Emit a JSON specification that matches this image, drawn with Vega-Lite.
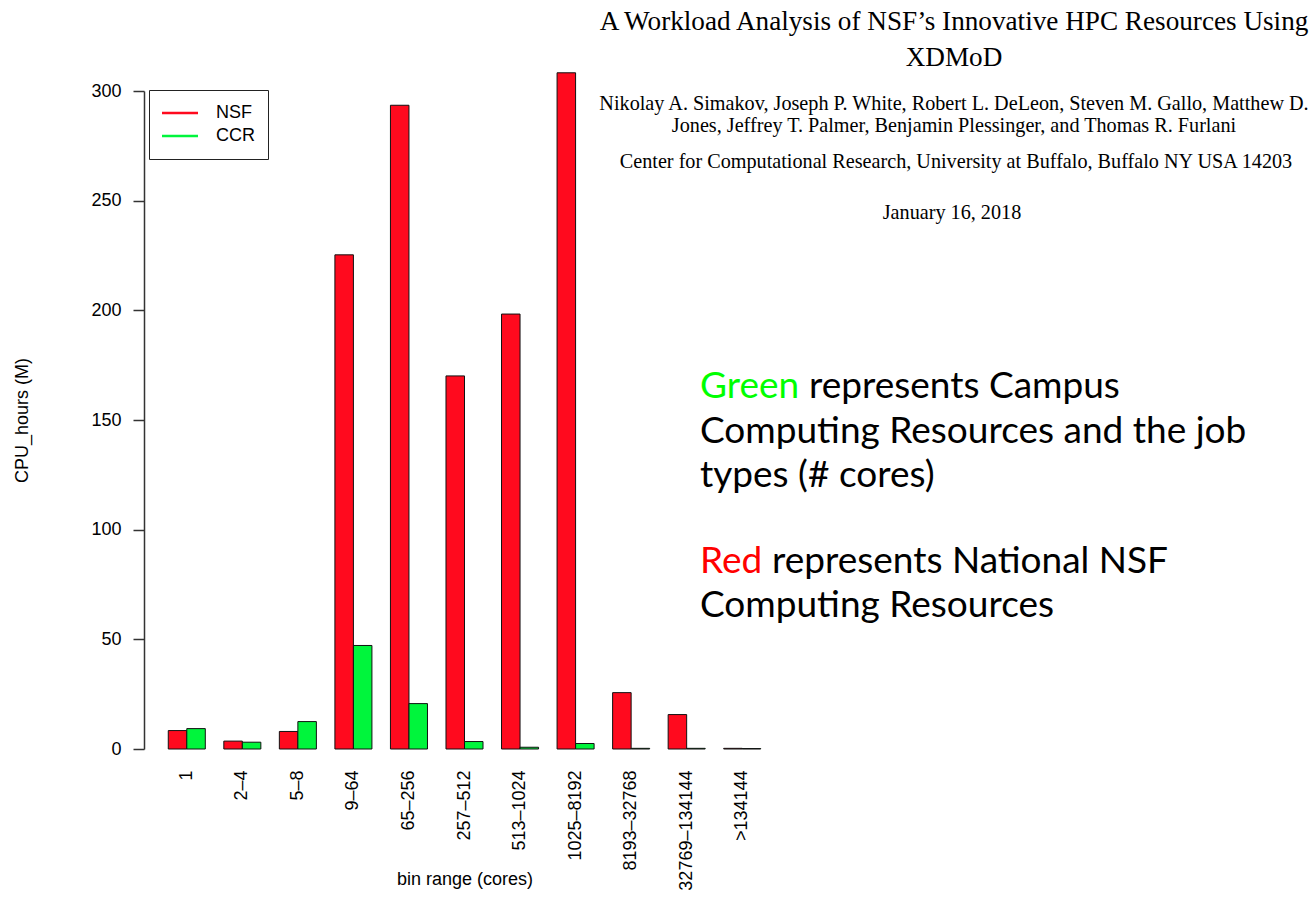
{
  "$schema": "https://vega.github.io/schema/vega-lite/v6.json",
  "width": 641,
  "height": 658,
  "autosize": {"type": "none"},
  "padding": {"left": 144, "top": 91, "right": 529, "bottom": 150},
  "background": "white",
  "config": {"view": {"stroke": null}, "font": "Liberation Sans"},
  "layer": [
    {
      "data": {
        "values": [
          {"bin": "1", "series": "NSF", "value": 8.4},
          {"bin": "1", "series": "CCR", "value": 9.3},
          {"bin": "2–4", "series": "NSF", "value": 3.6},
          {"bin": "2–4", "series": "CCR", "value": 3.1},
          {"bin": "5–8", "series": "NSF", "value": 8.0},
          {"bin": "5–8", "series": "CCR", "value": 12.5},
          {"bin": "9–64", "series": "NSF", "value": 225.3},
          {"bin": "9–64", "series": "CCR", "value": 47.2},
          {"bin": "65–256", "series": "NSF", "value": 293.5},
          {"bin": "65–256", "series": "CCR", "value": 20.7},
          {"bin": "257–512", "series": "NSF", "value": 170.1},
          {"bin": "257–512", "series": "CCR", "value": 3.4},
          {"bin": "513–1024", "series": "NSF", "value": 198.3},
          {"bin": "513–1024", "series": "CCR", "value": 0.8},
          {"bin": "1025–8192", "series": "NSF", "value": 308.3},
          {"bin": "1025–8192", "series": "CCR", "value": 2.5},
          {"bin": "8193–32768", "series": "NSF", "value": 25.7},
          {"bin": "8193–32768", "series": "CCR", "value": 0.3},
          {"bin": "32769–134144", "series": "NSF", "value": 15.7},
          {"bin": "32769–134144", "series": "CCR", "value": 0.3},
          {"bin": ">134144", "series": "NSF", "value": 0.3},
          {"bin": ">134144", "series": "CCR", "value": 0.2}
        ]
      },
      "mark": {"type": "bar", "stroke": "#111111", "strokeWidth": 1},
      "encoding": {
        "x": {
          "field": "bin",
          "type": "nominal",
          "sort": ["1", "2–4", "5–8", "9–64", "65–256", "257–512", "513–1024", "1025–8192", "8193–32768", "32769–134144", ">134144"],
          "scale": {"paddingInner": 0.3333, "paddingOuter": 0.437},
          "title": "bin range (cores)",
          "axis": {
            "domain": false,
            "ticks": false,
            "tickSize": 0,
            "labelAngle": 270,
            "labelAlign": "right",
            "labelBaseline": "middle",
            "labelPadding": 21,
            "labelFontSize": 18,
            "labelColor": "black",
            "labelOverlap": false,
            "labelLimit": 0,
            "titleFontSize": 18,
            "titleFontWeight": "normal",
            "titleColor": "black",
            "titleBaseline": "alphabetic",
            "titleY": 135
          }
        },
        "xOffset": {
          "field": "series",
          "type": "nominal",
          "sort": ["NSF", "CCR"],
          "scale": {"paddingInner": 0, "paddingOuter": 0}
        },
        "y": {
          "field": "value",
          "type": "quantitative",
          "scale": {"domain": [0, 300], "nice": false},
          "title": "CPU_hours (M)",
          "axis": {
            "values": [0, 50, 100, 150, 200, 250, 300],
            "grid": false,
            "domainColor": "#333333",
            "domainWidth": 1.5,
            "tickColor": "#333333",
            "tickWidth": 1.5,
            "tickSize": 11,
            "labelPadding": 12,
            "labelFontSize": 18,
            "labelColor": "black",
            "titleFontSize": 18,
            "titleFontWeight": "normal",
            "titleColor": "black",
            "titleAngle": 270,
            "titleAlign": "center",
            "titleBaseline": "middle",
            "titleX": -122,
            "titleY": 329
          }
        },
        "color": {
          "field": "series",
          "type": "nominal",
          "sort": ["NSF", "CCR"],
          "scale": {"domain": ["NSF", "CCR"], "range": ["#FF0A1E", "#00F53C"]},
          "legend": {
            "title": null,
            "orient": "none",
            "legendX": 5,
            "legendY": -1,
            "symbolType": "M-1,-0.075H1V0.075H-1Z",
            "symbolSize": 1296,
            "symbolStrokeWidth": 0,
            "clipHeight": 20,
            "rowPadding": 3,
            "padding": 13,
            "labelOffset": 18,
            "labelFontSize": 18,
            "labelColor": "black",
            "strokeColor": "#222222",
            "fillColor": "white",
            "encode": {
              "symbols": {
                "update": {
                  "strokeWidth": {"value": 0}
                }
              }
            }
          }
        }
      }
    },
    {
      "data": {"values": [{"t": ["A Workload Analysis of NSF’s Innovative HPC Resources Using", "XDMoD"]}]},
      "mark": {"type": "text", "x": 810, "y": -61, "align": "center", "baseline": "alphabetic", "font": "Liberation Serif", "fontSize": 27.2, "lineHeight": 36, "color": "black"},
      "encoding": {"text": {"field": "t"}}
    },
    {
      "data": {"values": [{"t": ["Nikolay A. Simakov, Joseph P. White, Robert L. DeLeon, Steven M. Gallo, Matthew D.", "Jones, Jeffrey T. Palmer, Benjamin Plessinger, and Thomas R. Furlani"]}]},
      "mark": {"type": "text", "x": 810, "y": 19, "align": "center", "baseline": "alphabetic", "font": "Liberation Serif", "fontSize": 20.2, "lineHeight": 22, "color": "black"},
      "encoding": {"text": {"field": "t"}}
    },
    {
      "data": {"values": [{"t": "Center for Computational Research, University at Buffalo, Buffalo NY USA 14203"}]},
      "mark": {"type": "text", "x": 812, "y": 77, "align": "center", "baseline": "alphabetic", "font": "Liberation Serif", "fontSize": 20.2, "color": "black"},
      "encoding": {"text": {"field": "t"}}
    },
    {
      "data": {"values": [{"t": "January 16, 2018"}]},
      "mark": {"type": "text", "x": 808, "y": 128, "align": "center", "baseline": "alphabetic", "font": "Liberation Serif", "fontSize": 20.2, "color": "black"},
      "encoding": {"text": {"field": "t"}}
    },
    {
      "data": {"values": [{"t": "Green"}]},
      "mark": {"type": "text", "x": 556, "y": 307, "align": "left", "baseline": "alphabetic", "font": "Lato", "fontSize": 37, "color": "#00FF00"},
      "encoding": {"text": {"field": "t"}}
    },
    {
      "data": {"values": [{"t": "represents Campus"}]},
      "mark": {"type": "text", "x": 665, "y": 307, "align": "left", "baseline": "alphabetic", "font": "Lato", "fontSize": 37, "color": "black"},
      "encoding": {"text": {"field": "t"}}
    },
    {
      "data": {"values": [{"t": ["Computing Resources and the job", "types (# cores)"]}]},
      "mark": {"type": "text", "x": 556, "y": 352, "align": "left", "baseline": "alphabetic", "font": "Lato", "fontSize": 37, "lineHeight": 43.5, "color": "black"},
      "encoding": {"text": {"field": "t"}}
    },
    {
      "data": {"values": [{"t": "Red"}]},
      "mark": {"type": "text", "x": 556, "y": 482, "align": "left", "baseline": "alphabetic", "font": "Lato", "fontSize": 37, "color": "#FF0000"},
      "encoding": {"text": {"field": "t"}}
    },
    {
      "data": {"values": [{"t": "represents National NSF"}]},
      "mark": {"type": "text", "x": 628, "y": 482, "align": "left", "baseline": "alphabetic", "font": "Lato", "fontSize": 37, "color": "black"},
      "encoding": {"text": {"field": "t"}}
    },
    {
      "data": {"values": [{"t": "Computing Resources"}]},
      "mark": {"type": "text", "x": 556, "y": 526, "align": "left", "baseline": "alphabetic", "font": "Lato", "fontSize": 37, "color": "black"},
      "encoding": {"text": {"field": "t"}}
    }
  ]
}
